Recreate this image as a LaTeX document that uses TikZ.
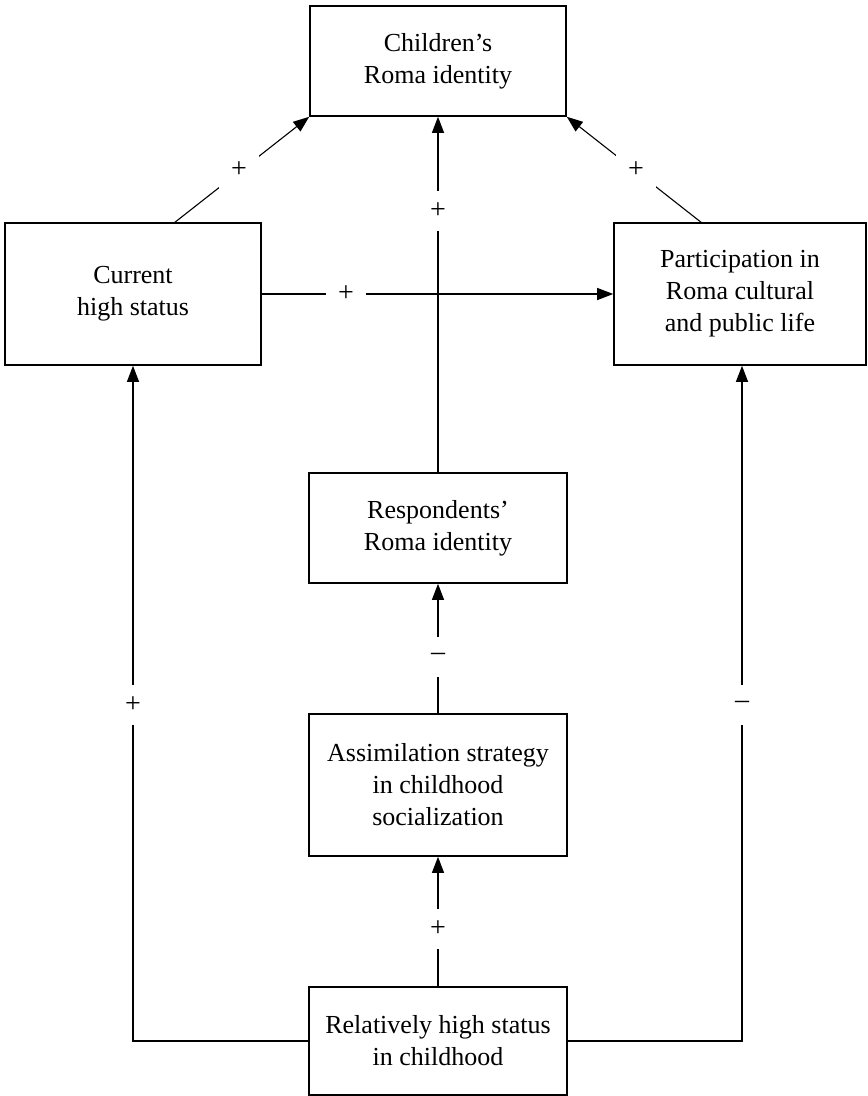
\documentclass[tikz,border=0pt]{standalone}
\usepackage{fontspec}
\setmainfont{Liberation Serif}
\usetikzlibrary{arrows.meta}
\begin{document}
\begin{tikzpicture}[x=1pt,y=-1pt,
  box/.style={draw, line width=1.6pt, inner sep=0pt, align=center, font=\fontsize{26}{32}\selectfont},
  conn/.style={line width=1.1pt, -{Triangle[length=16pt,width=12pt]}},
  sign/.style={fill=white, inner sep=0pt, minimum width=40pt, minimum height=40pt, font=\fontsize{28}{30}\selectfont}]
\useasboundingbox (0,0) rectangle (868,1096);
\fill[white] (0,0) rectangle (868,1096);
\node[box, minimum width=256pt, minimum height=110pt] (child) at (438,61) {Children’s\\Roma identity};
\node[box, minimum width=256pt, minimum height=142pt] (cur) at (133,294) {Current\\high status};
\node[box, minimum width=252pt, minimum height=142pt] (part) at (740,294) {Participation in\\Roma cultural\\and public life};
\node[box, minimum width=258pt, minimum height=110pt] (resp) at (438,528) {Respondents’\\Roma identity};
\node[box, minimum width=258pt, minimum height=142pt] (assim) at (438,785) {Assimilation strategy\\in childhood\\socialization};
\node[box, minimum width=258pt, minimum height=108pt] (rel) at (438,1041) {Relatively high status\\in childhood};
\coordinate (c1) at (174,223);
\coordinate (c2) at (702,223);
\coordinate (lc) at (133,1041);
\coordinate (rc) at (742,1041);
% connectors
\draw[conn] (resp.north) -- (child.south);
\draw[conn] (cur.east) -- (part.west);
\draw[conn] (c1) -- (child.south west);
\draw[conn] (c2) -- (child.south east);
\draw[conn] (assim.north) -- (resp.south);
\draw[conn] (rel.north) -- (assim.south);
\draw[conn] (rel.west) -- (lc) -- (cur.south);
\draw[conn] (rel.east) -- (rc) -- (rc |- part.south);
% signs
\node[sign] (s1) at (438,211) {+};
\node[sign] (s2) at (346,294) {+};
\node[sign] (s3) at (239,170) {+};
\node[sign] (s4) at (636,170) {+};
\node[sign] (s5) at (438,657) {–};
\node[sign] (s6) at (438,929) {+};
\node[sign] (s7) at (133,705) {+};
\node[sign] (s8) at (742,705) {–};
\end{tikzpicture}
\end{document}
